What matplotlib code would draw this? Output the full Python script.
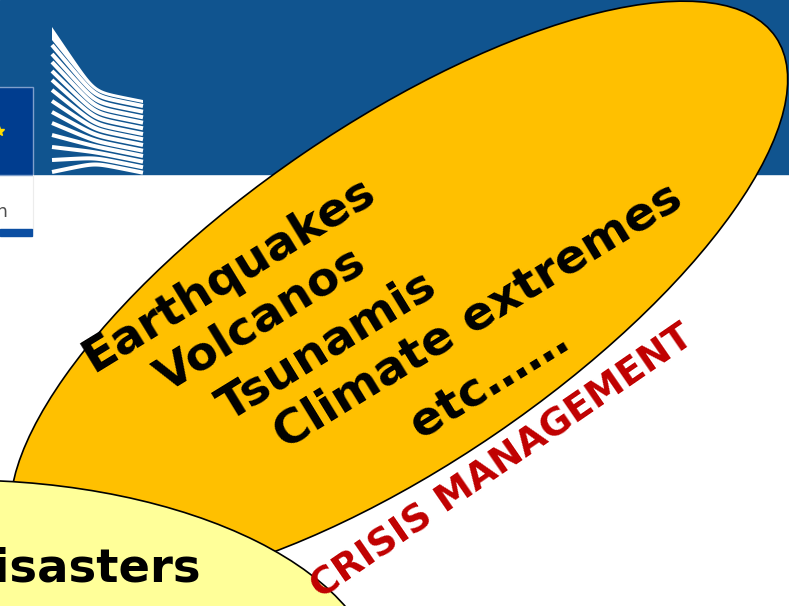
import numpy as np
import matplotlib
matplotlib.use("Agg")
import matplotlib.pyplot as plt
from matplotlib.patches import Ellipse, Rectangle, Polygon

# slide content
hazards = ["Earthquakes", "Volcanos", "Tsunamis", "Climate extremes", "etc……"]
hazard_xy = [(229, 275), (261, 320), (327, 346), (478, 316), (490, 383)]
bottom_word = "Disasters"
arc_label = "CRISIS MANAGEMENT"
header_word = "Commission"

# logo stripes: left / right end heights (px, image coords)
stripe_left = [45, 54, 62, 71, 80, 90, 101, 112, 123, 135, 147, 160, 172]
stripe_right = [106, 111.7, 117.3, 122.7, 128.3, 134, 139.3, 145, 150.7, 156, 161.7, 167.3, 172.7]

BANNER = "#10548f"
ORANGE = "#ffc000"
PALE = "#ffff99"
RED = "#c00000"

fig = plt.figure(figsize=(7.89, 6.06), dpi=100)
ax = fig.add_axes([0, 0, 1, 1])
ax.set_xlim(0, 789)
ax.set_ylim(606, 0)
ax.axis("off")

# header band
ax.add_patch(Rectangle((0, 0), 789, 174, color=BANNER, zorder=1))
ax.add_patch(Rectangle((-2, 87), 35, 88, facecolor="#003d8f",
                       edgecolor="#7f9fcb", lw=1.0, zorder=2))
ax.plot([-1], [131], marker="*", ms=7, color="#ffdd00", zorder=3, clip_on=True)
ax.plot([33, 33], [175, 229], color="#ececec", lw=0.8, zorder=2)
ax.add_patch(Rectangle((0, 229), 32, 7, color="#0b4ea2", zorder=2))
ax.text(7.5, 217, header_word, ha="right", va="baseline", fontsize=13,
        color="#4d4d4d", zorder=2)

# building logo
x = np.linspace(52, 143, 120)
xb, m, w = 95.0, 0.2, 5.0


def stripe(yl, yr):
    a = (yl - yr + 91 * m) / (xb - 52)
    sp = w * np.log1p(np.exp((xb - x) / w))
    sp0 = w * np.log1p(np.exp((xb - 52) / w))
    return yr + m * (x - 143) + a * sp * ((xb - 52) / sp0)


top = stripe(27, 100)
first = stripe(40, 103)
ax.add_patch(Polygon(np.column_stack([np.r_[x, x[::-1]], np.r_[top, first[::-1]]]),
                     color="white", lw=0, zorder=2))
for yl, yr in zip(stripe_left, stripe_right):
    ax.plot(x, stripe(yl, yr), color="white", lw=2.9, solid_capstyle="butt", zorder=2)

# big orange ellipse
ax.add_patch(Ellipse((399, 294), 912, 340, angle=-34.3, facecolor=ORANGE,
                     edgecolor="black", lw=1.2, zorder=4))
for txt, (hx, hy) in zip(hazards, hazard_xy):
    ax.text(hx, hy, txt, rotation=31.5, rotation_mode="anchor", ha="center",
            va="center", fontsize=34, fontweight="bold", color="black", zorder=5)

# pale ellipse bottom left
ax.add_patch(Ellipse((-40, 690), 840, 420, facecolor=PALE, edgecolor="black",
                     lw=1.2, zorder=6))
ax.text(201, 582, bottom_word, ha="right", va="baseline", fontsize=33.5,
        fontweight="bold", color="black", zorder=7)

ax.text(503, 462, arc_label, rotation=34.5, rotation_mode="anchor", ha="center",
        va="center", fontsize=27, fontweight="bold", color=RED, zorder=8)

fig.savefig("out.png", dpi=100)
